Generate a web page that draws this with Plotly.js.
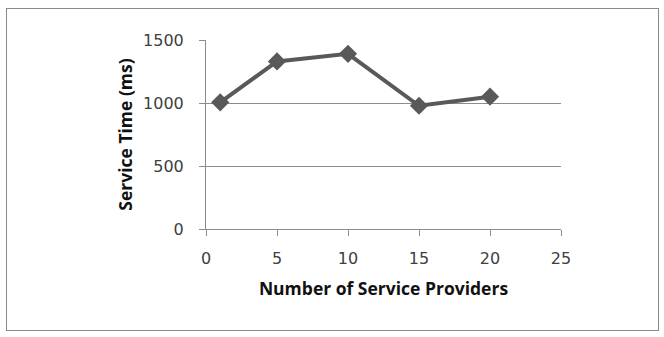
<!DOCTYPE html>
<html><head><meta charset="utf-8">
<script src="https://cdn.plot.ly/plotly-3.0.1.min.js"></script>
<style>
body{margin:0;padding:0;background:#fff;}
#wrap{position:relative;width:664px;height:337px;}
#chart{position:absolute;left:0;top:0;width:664px;height:337px;}
#frame{position:absolute;left:6px;top:8px;width:651px;height:321px;border:1px solid #8a8a8a;pointer-events:none;}
</style></head>
<body>
<div id="wrap"><div id="chart"></div><div id="frame"></div></div>
<script>
const providers = [1, 5, 10, 15, 20];
const serviceTime = [1005, 1330, 1390, 978, 1050];
const xTicks = [0, 5, 10, 15, 20, 25];
const yTicks = [0, 500, 1000, 1500];

const trace = {
  x: providers, y: serviceTime, type: 'scatter', mode: 'lines+markers',
  line: {color: '#595959', width: 4},
  marker: {symbol: 'diamond', size: 14, color: '#595959'},
  cliponaxis: false, showlegend: false
};
const tickFont = "'DejaVu Sans', sans-serif";
const titleFont = "'Open Sans', 'DejaVu Sans', sans-serif";
const layout = {
  width: 664, height: 337,
  margin: {l: 206, r: 103, t: 40, b: 108},
  paper_bgcolor: '#fff', plot_bgcolor: '#fff',
  font: {family: tickFont, color: '#404040', size: 16},
  xaxis: {
    range: [0, 25], tickvals: xTicks, ticktext: xTicks.map(String),
    showgrid: false, zeroline: false, automargin: false,
    showline: true, linecolor: '#8c8c8c', linewidth: 1,
    ticks: 'outside', ticklen: 6, tickcolor: '#8c8c8c',
    ticklabelstandoff: 9,
    tickfont: {family: tickFont, size: 16, color: '#404040'},
    title: {text: '<b>Number of Service Providers</b>', font: {family: titleFont, size: 17.5, color: '#111'}, standoff: 15}
  },
  yaxis: {
    range: [0, 1500], tickvals: yTicks, ticktext: yTicks.map(String),
    showgrid: true, gridcolor: '#8c8c8c', gridwidth: 1, zeroline: false, automargin: false,
    showline: true, linecolor: '#8c8c8c', linewidth: 1,
    ticks: 'outside', ticklen: 6, tickcolor: '#8c8c8c',
    ticklabelstandoff: 12,
    tickfont: {family: tickFont, size: 16, color: '#404040'},
    title: {text: '<b>Service Time (ms)</b>', font: {family: titleFont, size: 17.5, color: '#111'}, standoff: 5}
  }
};
Plotly.newPlot('chart', [trace], layout, {displayModeBar: false, staticPlot: true});
</script>
</body></html>
